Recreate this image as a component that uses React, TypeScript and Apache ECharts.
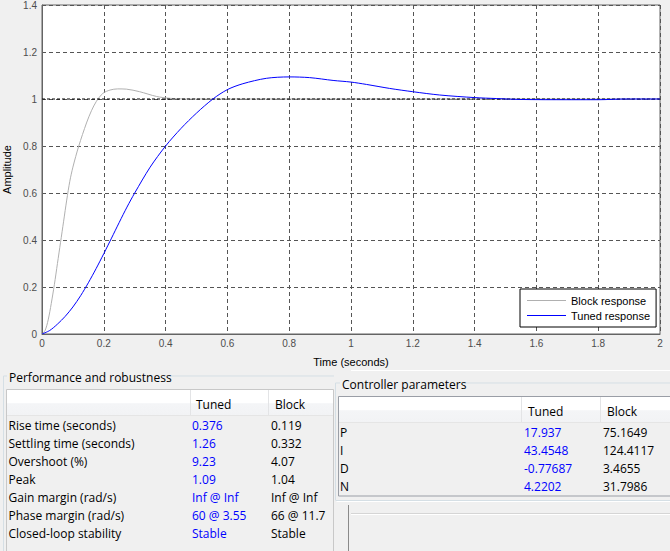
import React, { useEffect, useRef } from "react";
import * as echarts from "echarts";

// ---- chart data ----
const tunedResponse: [number, number][] = [
  [0, 0], [0.025, 0.015], [0.05, 0.042], [0.075, 0.075], [0.1, 0.115], [0.125, 0.163],
  [0.15, 0.218], [0.175, 0.278], [0.2, 0.342], [0.225, 0.408], [0.25, 0.475], [0.275, 0.54],
  [0.3, 0.6], [0.35, 0.71], [0.4, 0.8], [0.45, 0.875], [0.5, 0.94], [0.553, 1.0],
  [0.6, 1.04], [0.65, 1.065], [0.726, 1.088], [0.8, 1.094], [0.866, 1.091], [0.942, 1.079],
  [1.0, 1.072], [1.05, 1.062], [1.125, 1.045], [1.2, 1.031], [1.287, 1.017], [1.4, 1.006],
  [1.47, 1.002], [1.55, 0.998], [1.7, 0.997], [1.8, 0.997], [1.89, 1.0], [2.0, 1.0],
];
const blockResponse: [number, number][] = [
  [0, 0], [0.01, 0.015], [0.02, 0.06], [0.03, 0.13], [0.04, 0.21], [0.05, 0.3],
  [0.06, 0.39], [0.07, 0.48], [0.08, 0.57], [0.09, 0.65], [0.1, 0.71], [0.119, 0.8],
  [0.144, 0.898], [0.16, 0.95], [0.176, 0.99], [0.197, 1.024], [0.22, 1.038], [0.245, 1.043],
  [0.273, 1.042], [0.316, 1.031], [0.37, 1.011], [0.413, 1.003], [0.47, 1.0], [2.0, 1.0],
];
const referenceLevel: [number, number][] = [[0, 1], [2, 1]];
const seriesNames = ["Block response", "Tuned response"];
const xRange = [0, 2, 0.2];
const yRange = [0, 1.4, 0.2];
const xAxisTitle = "Time (seconds)";
const yAxisTitle = "Amplitude";

// ---- tables ----
const perfTitle = "Performance and robustness";
const perfHeaders = ["Tuned", "Block"];
const perfLabels = [
  "Rise time (seconds)", "Settling time (seconds)", "Overshoot (%)", "Peak",
  "Gain margin (rad/s)", "Phase margin (rad/s)", "Closed-loop stability",
];
const perfTuned = ["0.376", "1.26", "9.23", "1.09", "Inf @ Inf", "60 @ 3.55", "Stable"];
const perfBlock = ["0.119", "0.332", "4.07", "1.04", "Inf @ Inf", "66 @ 11.7", "Stable"];

const paramTitle = "Controller parameters";
const paramHeaders = ["Tuned", "Block"];
const paramLabels = ["P", "I", "D", "N"];
const paramTuned = ["17.937", "43.4548", "-0.77687", "4.2202"];
const paramBlock = ["75.1649", "124.4117", "3.4655", "31.7986"];

const UI_FONT = '"Open Sans", "Noto Sans", sans-serif';
const PLOT_FONT = '"Liberation Sans", Arial, sans-serif';
// thin horizontal line icon; the two tiny corner squares fix the bounding box
const LINE_ICON = "path://M0,0h0.05v0.05h-0.05z M0,6h39v1h-39z M38.95,12.95h0.05v0.05h-0.05z";

function txt(text: string, x: number, y: number, color = "#000", align = "left", size = 12, font = UI_FONT): any {
  return {
    type: "text",
    x,
    y,
    silent: true,
    style: {
      text,
      fill: color,
      fontSize: size,
      fontFamily: font,
      align,
      textAlign: align,
      verticalAlign: "middle",
      textVerticalAlign: "middle",
    },
  };
}
function ln(x1: number, y1: number, x2: number, y2: number, color: string, w = 1): any {
  return {
    type: "line",
    silent: true,
    shape: { x1, y1, x2, y2 },
    style: { stroke: color, lineWidth: w },
  };
}
const headerFill = {
  type: "linear", x: 0, y: 0, x2: 0, y2: 1,
  colorStops: [
    { offset: 0, color: "#ffffff" },
    { offset: 0.5, color: "#ffffff" },
    { offset: 0.55, color: "#f4f5f7" },
    { offset: 1, color: "#f2f3f5" },
  ],
};

function buildGraphics(): any[] {
  const g: any[] = [];
  const groupLine = "#d5dfe5";
  g.push(ln(351, 370.5, 670, 370.5, "#ffffff"));

  // ---- Performance panel ----
  g.push(ln(3.5, 376, 3.5, 551, groupLine));
  g.push(ln(3.5, 376, 7, 376, groupLine));
  g.push(ln(164, 376, 334, 376, groupLine));
  g.push(txt(perfTitle, 9, 377));
  g.push({ type: "rect", silent: true, shape: { x: 6.5, y: 389.5, width: 327, height: 170 }, style: { fill: "#f0f0f0", stroke: "#c8c8c8", lineWidth: 1 } });
  g.push({ type: "rect", silent: true, shape: { x: 7, y: 390, width: 326, height: 25 }, style: { fill: headerFill } });
  g.push(ln(7, 415.5, 333, 415.5, "#e5e5e5"));
  g.push(ln(190.5, 390, 190.5, 415, "#e3e4e6"));
  g.push(ln(268.5, 390, 268.5, 415, "#e3e4e6"));
  g.push(txt(perfHeaders[0], 196, 404.5));
  g.push(txt(perfHeaders[1], 275, 404.5));
  perfLabels.forEach((lab, i) => {
    const y = 425.7 + i * 18;
    g.push(txt(lab, 8.5, y));
    g.push(txt(perfTuned[i], 192, y, "#0000ff"));
    g.push(txt(perfBlock[i], 271, y));
  });

  // ---- Controller parameters panel ----
  g.push(ln(335.5, 383, 335.5, 500, groupLine));
  g.push(ln(335.5, 383, 340, 383, groupLine));
  g.push(ln(458, 383, 670, 383, groupLine));
  g.push(ln(335.5, 500.5, 670, 500.5, groupLine));
  g.push(ln(336.5, 501.5, 670, 501.5, "#ffffff"));
  g.push(txt(paramTitle, 342, 384));
  g.push({ type: "rect", silent: true, shape: { x: 338.5, y: 396.5, width: 340, height: 99.5 }, style: { fill: "#f0f0f0", stroke: "#9a9ea6", lineWidth: 1 } });
  g.push({ type: "rect", silent: true, shape: { x: 339, y: 397, width: 331, height: 25 }, style: { fill: headerFill } });
  g.push(ln(339, 422.5, 670, 422.5, "#e5e5e5"));
  g.push(ln(521.5, 397, 521.5, 422, "#e3e4e6"));
  g.push(ln(600.5, 397, 600.5, 422, "#e3e4e6"));
  g.push(txt(paramHeaders[0], 528, 411.7));
  g.push(txt(paramHeaders[1], 607, 411.7));
  paramLabels.forEach((lab, i) => {
    const y = 432.3 + i * 18;
    g.push(txt(lab, 340, y));
    g.push(txt(paramTuned[i], 524, y, "#0000ff"));
    g.push(txt(paramBlock[i], 603, y));
  });

  g.push(ln(348.5, 505, 348.5, 551, "#8a8a8a"));
  g.push(ln(351, 513.5, 670, 513.5, "#d5d5d5"));
  g.push(ln(351, 514.5, 670, 514.5, "#ffffff"));
  return g;
}

export default function App() {
  const ref = useRef<HTMLDivElement>(null);
  useEffect(() => {
    if (!ref.current) return;
    const chart = echarts.init(ref.current, undefined, { renderer: "svg" });
    const gridDash = { color: "#555555", width: 1, type: [4, 3] as any };
    chart.setOption({
      animation: false,
      backgroundColor: "#f0f0f0",
      grid: {
        left: 42, top: 5, right: 10, bottom: 217,
        outerBoundsMode: "none",
        containLabel: false,
        show: true, backgroundColor: "#ffffff", borderColor: "#646464", borderWidth: 1,
      },
      legend: {
        data: seriesNames.map((name) => ({ name, icon: LINE_ICON })),
        orient: "vertical",
        left: 520,
        top: 289,
        itemWidth: 39,
        itemHeight: 13,
        itemGap: 2,
        padding: [5, 6, 5, 7],
        backgroundColor: "#ffffff",
        borderColor: "#000000",
        borderWidth: 1,
        borderRadius: 0,
        selectedMode: false,
        textStyle: { fontFamily: PLOT_FONT, fontSize: 11, color: "#000" },
      },
      xAxis: {
        type: "value",
        min: xRange[0], max: xRange[1], interval: xRange[2],
        name: xAxisTitle,
        nameLocation: "middle",
        nameGap: 22,
        nameTextStyle: { fontFamily: PLOT_FONT, fontSize: 11, color: "#000" },
        axisLine: { show: true, lineStyle: { color: "#646464" } },
        axisTick: { show: false },
        axisLabel: { margin: 4, fontFamily: PLOT_FONT, fontSize: 10, color: "#4d4d4d" },
        splitLine: { show: true, lineStyle: gridDash },
      },
      yAxis: {
        type: "value",
        min: yRange[0], max: yRange[1], interval: yRange[2],
        name: yAxisTitle,
        nameLocation: "middle",
        nameGap: 29,
        nameRotate: 90,
        nameTextStyle: { fontFamily: PLOT_FONT, fontSize: 11, color: "#000" },
        axisLine: { show: true, lineStyle: { color: "#646464" } },
        axisTick: { show: false },
        axisLabel: { margin: 5, fontFamily: PLOT_FONT, fontSize: 10, color: "#4d4d4d" },
        splitLine: { show: true, lineStyle: gridDash },
      },
      series: [
        {
          name: seriesNames[0],
          type: "line",
          data: blockResponse,
          symbol: "none",
          smooth: 0.3,
          lineStyle: { color: "#b0b0b0", width: 1 },
          itemStyle: { color: "#b0b0b0" },
          z: 2,
        },
        {
          name: "reference",
          type: "line",
          data: referenceLevel,
          symbol: "none",
          silent: true,
          lineStyle: { color: "#000000", width: 1, type: [3, 2] as any },
          z: 3,
        },
        {
          name: seriesNames[1],
          type: "line",
          data: tunedResponse,
          symbol: "none",
          smooth: 0.3,
          lineStyle: { color: "#0000ff", width: 1 },
          itemStyle: { color: "#0000ff" },
          z: 4,
        },
      ],
      graphic: buildGraphics(),
    });
    return () => chart.dispose();
  }, []);
  return (
    <div
      ref={ref}
      style={{ position: "absolute", left: 0, top: 0, width: 670, height: 551 }}
    />
  );
}
